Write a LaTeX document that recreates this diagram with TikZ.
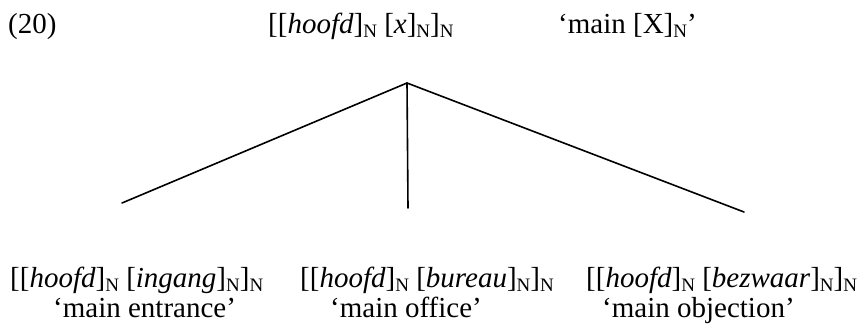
\documentclass[tikz,border=0pt]{standalone}
\usepackage{fontspec}
\setmainfont{Liberation Serif}
\newcommand\Nsb{\raisebox{-4.5pt}{\fontsize{19}{19}\selectfont N}}
\begin{document}
\begin{tikzpicture}[x=1pt,y=-1pt,
  txt/.style={anchor=base west,inner sep=0pt,font=\fontsize{29}{29}\selectfont},
  branch/.style={line width=1.6pt,line cap=round}]
\useasboundingbox (0,0) rectangle (861,324);
\node[txt] (num) at (8,33) {(20)};
\node[txt] (schema) at (268,33) {[[\textit{hoofd}]\Nsb{} [\textit{x}]\Nsb]\Nsb};
\node[txt] (gloss) at (558,33) {‘main [X]\Nsb’};
\coordinate (apex) at (407,83);
\coordinate (lend) at (122,203);
\coordinate (mend) at (408,208);
\coordinate (rend) at (744,212);
\draw[branch] (apex) -- (lend);
\draw[branch] (apex) -- (mend);
\draw[branch] (apex) -- (rend);
\node[txt] (a1) at (10,287) {[[\textit{hoofd}]\Nsb{} [\textit{ingang}]\Nsb]\Nsb};
\node[txt] (b1) at (300,287) {[[\textit{hoofd}]\Nsb{} [\textit{bureau}]\Nsb]\Nsb};
\node[txt] (c1) at (586,287) {[[\textit{hoofd}]\Nsb{} [\textit{bezwaar}]\Nsb]\Nsb};
\node[txt] (a2) at (53,317) {‘main entrance’};
\node[txt] (b2) at (330,317) {‘main office’};
\node[txt] (c2) at (602,317) {‘main objection’};
\end{tikzpicture}
\end{document}
